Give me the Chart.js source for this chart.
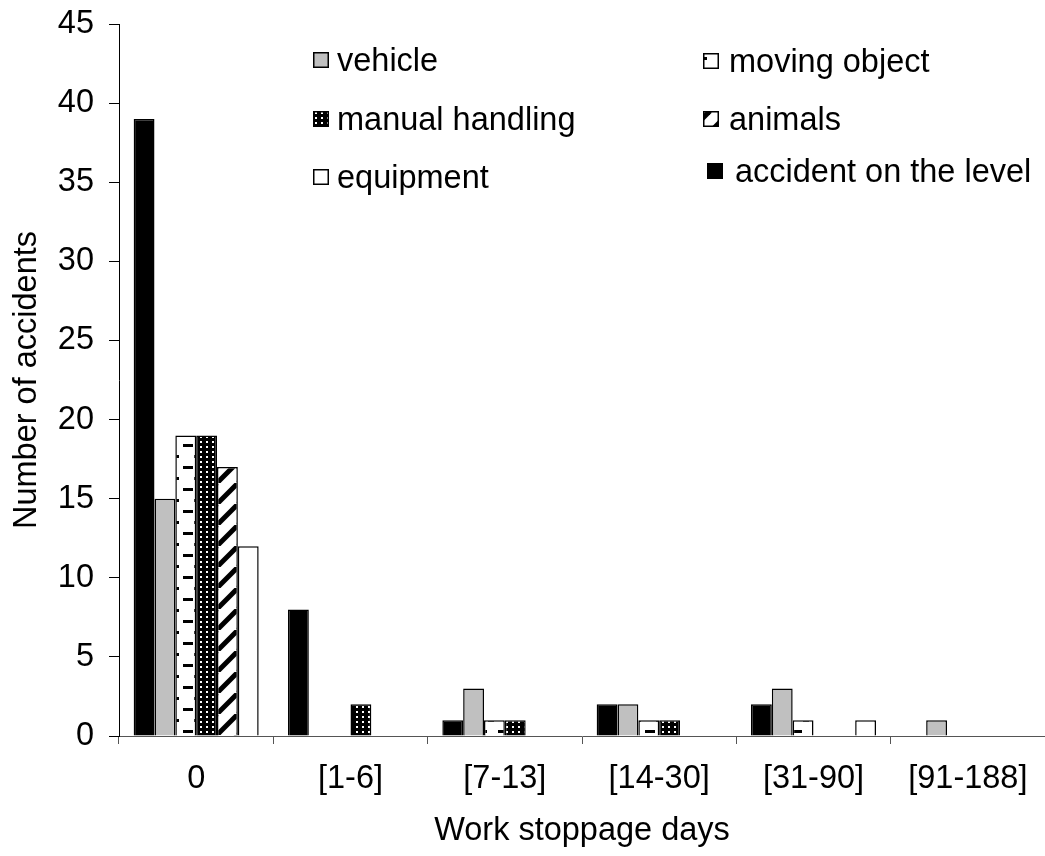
<!DOCTYPE html>
<html>
<head>
<meta charset="utf-8">
<script src="https://cdn.jsdelivr.net/npm/chart.js@4.4.0/dist/chart.umd.min.js"></script>
<style>
  html, body { margin: 0; padding: 0; background: #fff; }
  #wrap { position: relative; width: 1045px; height: 856px; }
  .legend-item {
    position: absolute;
    display: flex;
    align-items: center;
    font-family: 'Liberation Sans', Arial, sans-serif;
    font-size: 32.5px;
    line-height: 32px;
    color: #000;
    white-space: nowrap;
  }
</style>
</head>
<body>
<div id="wrap">
  <canvas id="chart"></canvas>
  <div id="legend"></div>
</div>
<script>
// Accidents by work stoppage days
const categories = ['0', '[1-6]', '[7-13]', '[14-30]', '[31-90]', '[91-188]'];
const levelCounts = [39, 8, 1, 2, 2, 0];
const vehicleCounts = [15, 0, 3, 2, 3, 1];
const movingObjectCounts = [19, 0, 1, 1, 1, 0];
const manualHandlingCounts = [19, 2, 1, 1, 0, 0];
const animalCounts = [17, 0, 0, 0, 0, 0];
const equipmentCounts = [12, 0, 0, 0, 1, 0];

const FONT = "'Liberation Sans', Arial, sans-serif";
const FONT_SIZE = 32.5;

function makeTile(w, h, paint) {
  const c = document.createElement('canvas');
  c.width = w;
  c.height = h;
  paint(c.getContext('2d'), w, h);
  return c;
}

const movingTile = makeTile(21, 22, (g, w, h) => {
  g.fillStyle = '#fff';
  g.fillRect(0, 0, w, h);
  g.fillStyle = '#000';
  g.fillRect(8, 4, 10, 3);
  g.fillRect(0, 15, 4, 3);
  g.fillRect(19, 15, 2, 3);
});

const manualTile = makeTile(6, 5, (g, w, h) => {
  g.fillStyle = '#000';
  g.fillRect(0, 0, w, h);
  g.fillStyle = '#fff';
  g.fillRect(2, 1, 2, 2);
});

const animalTile = makeTile(21, 21, (g, w, h) => {
  g.fillStyle = '#fff';
  g.fillRect(0, 0, w, h);
  g.strokeStyle = '#000';
  g.lineWidth = 5;
  [-w, 0, w].forEach(k => {
    g.beginPath();
    g.moveTo(k, h);
    g.lineTo(k + w, 0);
    g.stroke();
  });
});

const ctx = document.getElementById('chart').getContext('2d');
const movingPattern = ctx.createPattern(movingTile, 'repeat');
movingPattern.setTransform(new DOMMatrix().translate(175, 0));
const manualPattern = ctx.createPattern(manualTile, 'repeat');
const animalPattern = ctx.createPattern(animalTile, 'repeat');
animalPattern.setTransform(new DOMMatrix().translate(217, 0));

const series = [
  { key: 'level', label: 'accident on the level', data: levelCounts, fill: '#000' },
  { key: 'vehicle', label: 'vehicle', data: vehicleCounts, fill: '#c0c0c0' },
  { key: 'moving', label: 'moving object', data: movingObjectCounts, fill: movingPattern },
  { key: 'manual', label: 'manual handling', data: manualHandlingCounts, fill: manualPattern },
  { key: 'animals', label: 'animals', data: animalCounts, fill: animalPattern },
  { key: 'equipment', label: 'equipment', data: equipmentCounts, fill: '#fff' }
];

new Chart(ctx, {
  type: 'bar',
  data: {
    labels: categories,
    datasets: series.map(s => ({
      label: s.label,
      data: s.data,
      backgroundColor: s.fill,
      borderColor: '#000',
      borderWidth: 1.5,
      borderSkipped: 'start',
      inflateAmount: 0
    }))
  },
  options: {
    responsive: true,
    maintainAspectRatio: false,
    animation: false,
    layout: {
      padding: { top: 24, right: 0, bottom: 0, left: 0 }
    },
    datasets: {
      bar: { categoryPercentage: 0.81, barPercentage: 1 }
    },
    plugins: {
      legend: { display: false },
      tooltip: { enabled: false }
    },
    scales: {
      x: {
        grid: { offset: true, drawOnChartArea: false, tickLength: 8, color: '#555' },
        border: { color: '#555' },
        ticks: {
          color: '#000',
          font: { family: FONT, size: FONT_SIZE },
          padding: 15.5,
          maxRotation: 0,
          autoSkip: false
        },
        title: {
          display: true,
          text: 'Work stoppage days',
          color: '#000',
          font: { family: FONT, size: FONT_SIZE },
          padding: { top: 0, bottom: 5 }
        },
        afterFit: scale => { scale.height = 120; }
      },
      y: {
        min: 0,
        max: 45,
        ticks: {
          stepSize: 5,
          color: '#000',
          font: { family: FONT, size: FONT_SIZE },
          padding: 15
        },
        grid: { drawOnChartArea: false, tickLength: 10, color: '#000' },
        border: { color: '#000' },
        title: {
          display: true,
          text: 'Number of accidents',
          color: '#000',
          font: { family: FONT, size: FONT_SIZE },
          padding: { top: 7.5, bottom: 0 }
        },
        afterFit: scale => {
          scale.width = 119;
          // keep the plot top at the layout padding, labels may overhang
          scale.paddingTop = 0;
          scale.paddingBottom = 0;
        }
      }
    }
  }
});

// Legend laid out in two columns inside the plot, like the original
const legendSpots = {
  vehicle: [313, 44, 8],
  manual: [313, 103, 8],
  equipment: [313, 161, 8],
  moving: [703, 45, 10],
  animals: [703, 103, 10],
  level: [707, 155, 12]
};
const legendOrder = ['vehicle', 'moving', 'manual', 'animals', 'equipment', 'level'];
const legendEl = document.getElementById('legend');

legendOrder.forEach(key => {
  const s = series.find(d => d.key === key);
  const [x, y, gap] = legendSpots[key];
  const item = document.createElement('div');
  item.className = 'legend-item';
  item.style.left = x + 'px';
  item.style.top = y + 'px';

  const sw = document.createElement('canvas');
  sw.width = 16;
  sw.height = 16;
  sw.style.marginRight = gap + 'px';
  const g = sw.getContext('2d');
  g.fillStyle = s.fill;
  g.fillRect(0, 0, 16, 16);
  g.strokeStyle = '#000';
  g.lineWidth = 1.5;
  g.strokeRect(0.75, 0.75, 14.5, 14.5);

  const text = document.createElement('span');
  text.textContent = s.label;
  item.appendChild(sw);
  item.appendChild(text);
  legendEl.appendChild(item);
});
</script>
</body>
</html>
